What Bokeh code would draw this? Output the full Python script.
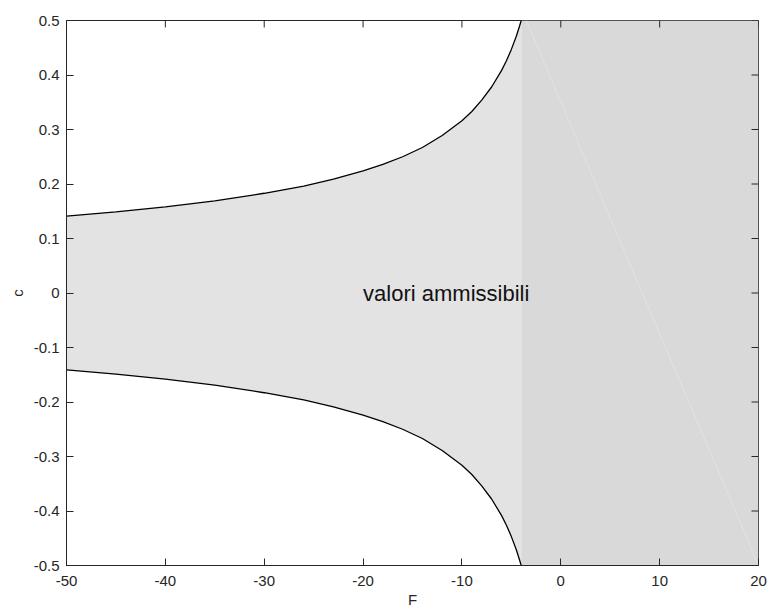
from bokeh.plotting import figure
from bokeh.models import Range1d, FixedTicker, Label
from bokeh.embed import file_html
from bokeh.resources import INLINE

# Boundary curve (upper branch; lower is its mirror)
F_vals = [-50, -45, -40, -35, -30, -26, -23, -20, -18, -16, -14, -12, -10, -9, -8, -7, -6, -5.5, -5, -4.5, -4.2, -4]
c_upper = [0.141, 0.149, 0.158, 0.169, 0.183, 0.196, 0.209, 0.224, 0.236, 0.250, 0.267, 0.289, 0.316, 0.333, 0.354, 0.378, 0.408, 0.426, 0.447, 0.471, 0.488, 0.5]
c_lower = [-v for v in c_upper]

# Region where all values are admissible (right block)
F_block = [-4, 20]
c_block = [-0.5, 0.5]

x_ticks = [-50, -40, -30, -20, -10, 0, 10, 20]
x_labels = ["-50", "-40", "-30", "-20", "-10", "0", "10", "20"]
y_ticks = [-0.5, -0.4, -0.3, -0.2, -0.1, 0, 0.1, 0.2, 0.3, 0.4, 0.5]
y_labels = ["-0.5", "-0.4", "-0.3", "-0.2", "-0.1", "0", "0.1", "0.2", "0.3", "0.4", "0.5"]

label_text = "valori ammissibili"
label_pos = (-20, 0)

FONT = "Liberation Sans"
TXT = "#262626"
X0, X1, Y0, Y1 = -50, 20, -0.5, 0.5
FRAME_W, FRAME_H = 692, 546
TICK_PX = 7

p = figure(width=767, height=610, output_backend="svg", toolbar_location=None,
           x_range=Range1d(X0, X1), y_range=Range1d(Y0, Y1),
           min_border_left=66, min_border_right=9, min_border_top=20, min_border_bottom=44,
           x_axis_label="F", y_axis_label="c")
p.background_fill_color = "white"
p.border_fill_color = "white"
p.outline_line_color = TXT
p.outline_line_width = 1
p.xgrid.visible = False
p.ygrid.visible = False

p.varea(x=F_vals, y1=c_lower, y2=c_upper, fill_color="#e3e3e3")
p.quad(left=[F_block[0]], right=[F_block[1]], bottom=[c_block[0]], top=[c_block[1]],
       fill_color="#d9d9d9", line_color=None)
p.line(x=[-3.5, 20], y=[0.5, -0.5], line_color="#e2e2e2", line_width=1)
p.line(x=F_vals, y=c_upper, line_color="black", line_width=1.3)
p.line(x=F_vals, y=c_lower, line_color="black", line_width=1.3)

# inward ticks on top and right edges (mirror of the bottom/left ticks)
dy = TICK_PX * (Y1 - Y0) / FRAME_H
dx = TICK_PX * (X1 - X0) / FRAME_W
p.segment(x0=x_ticks, x1=x_ticks, y0=[Y1] * len(x_ticks), y1=[Y1 - dy] * len(x_ticks),
          line_color=TXT, line_width=1)
p.segment(x0=[X1] * len(y_ticks), x1=[X1 - dx] * len(y_ticks), y0=y_ticks, y1=y_ticks,
          line_color=TXT, line_width=1)

p.add_layout(Label(x=label_pos[0], y=label_pos[1], text=label_text, text_font=FONT,
                   text_font_size="22px", text_color="#111111", text_baseline="middle",
                   text_align="left"))

for ax in (p.xaxis[0], p.yaxis[0]):
    ax.major_tick_in = TICK_PX
    ax.major_tick_out = 0
    ax.minor_tick_line_color = None
    ax.axis_line_color = TXT
    ax.major_tick_line_color = TXT
    ax.major_label_text_font = FONT
    ax.major_label_text_font_size = "15px"
    ax.major_label_text_color = TXT
    ax.axis_label_text_font = FONT
    ax.axis_label_text_font_size = "15px"
    ax.axis_label_text_font_style = "normal"
    ax.axis_label_text_color = TXT

p.xaxis[0].ticker = FixedTicker(ticks=x_ticks)
p.yaxis[0].ticker = FixedTicker(ticks=y_ticks)
p.xaxis[0].major_label_overrides = {t: s for t, s in zip(x_ticks, x_labels)}
p.yaxis[0].major_label_overrides = {t: s for t, s in zip(y_ticks, y_labels)}
p.xaxis[0].major_label_standoff = 10
p.xaxis[0].axis_label_standoff = 2
p.yaxis[0].major_label_standoff = 7
p.yaxis[0].axis_label_standoff = 5

open("out.html", "w").write(file_html(p, INLINE))
